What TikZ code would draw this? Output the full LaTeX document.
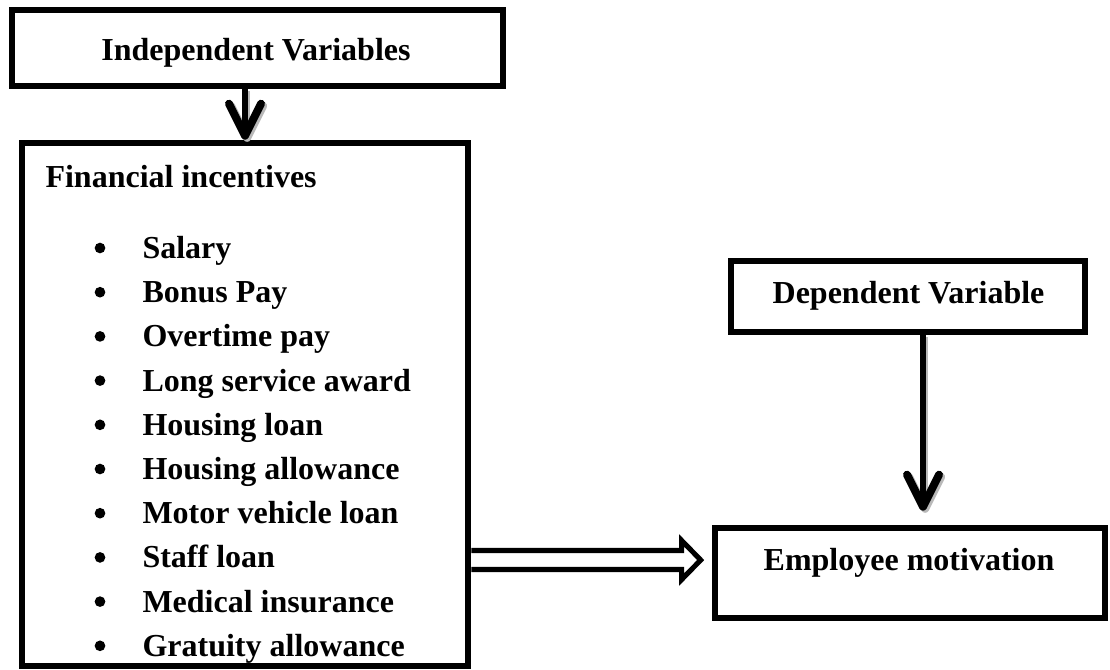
\documentclass[tikz,border=0pt]{standalone}
\usepackage{fontspec}
\setmainfont{Liberation Serif}
\usetikzlibrary{calc, arrows.meta}
\tikzstyle{box}=[draw, line width=2.5pt, inner sep=0pt]
\tikzstyle{txt}=[inner sep=0pt, font=\fontsize{12}{14}\selectfont\bfseries]
\tikzstyle{dot}=[circle, fill, inner sep=0pt, minimum size=4pt]
\tikzstyle{vline}=[line width=2.5pt, -{Straight Barb[length=12pt, width=12pt, line width=3pt, round]}]
\tikzstyle{ghost}=[gray!55, transform canvas={xshift=0.8pt, yshift=-0.8pt}]
\tikzstyle{hollow}=[line width=1.9pt, line join=miter, fill=white]

\begin{document}
\begin{tikzpicture}[x=0.375pt, y=-0.375pt]
    \useasboundingbox (0,0) rectangle (1110,669);
    % boxes
    \node [box, minimum width=184.1pt, minimum height=28.5pt] (indep) at (257.5,48) {};
    \node [txt, anchor=base] (indeptxt) at ($(indep.center)+(-1.5,12.5)$) {Independent Variables};
    \node [box, minimum width=167.25pt, minimum height=196.1pt] (fin) at (245,404.5) {};
    \node [txt, anchor=base west] (fintxt) at (45,187.5) {Financial incentives};
    \foreach \incentive [count=\i from 0] in {Salary, Bonus Pay, Overtime pay, Long service award,
        Housing loan, Housing allowance, Motor vehicle loan, Staff loan, Medical insurance, Gratuity allowance}
    {
        \node [dot] (dot\i) at (100,248+44.2*\i) {};
        \node [txt, anchor=base west] (item\i) at (142,258.5+44.2*\i) {\incentive};
    }
    \node [box, minimum width=132.75pt, minimum height=26.6pt] (dep) at (908,296.5) {};
    \node [txt, anchor=base] (deptxt) at ($(dep.center)+(0.5,7)$) {Dependent Variable};
    \node [box, minimum width=146.25pt, minimum height=33.75pt] (emp) at (910,573) {};
    \node [txt, anchor=base] (emptxt) at ($(emp.center)+(-1,-2.5)$) {Employee motivation};

    % arrows
    \coordinate (dtop) at ($(dep.south)+(15,0)$);
    \coordinate (dend) at ($(dtop |- emp.north)+(0,-14)$);
    \draw [vline, ghost] (indep.south -| fin.north) -- (fin.north);
    \draw [vline] (indep.south -| fin.north) -- (fin.north);
    \draw [vline, ghost] (dtop) -- (dend);
    \draw [vline] (dtop) -- (dend);

    \coordinate (hs) at ($(fin.east |- emp.center)+(0,-13)$);
    \coordinate (he) at ($(emp.west |- hs)+(-11,0)$);
    \draw [hollow] ($(hs)+(0,-9.5)$) -- ($(he)+(-19,-9.5)$) -- ($(he)+(-19,-19.5)$) -- (he)
        -- ($(he)+(-19,19.5)$) -- ($(he)+(-19,9.5)$) -- ($(hs)+(0,9.5)$);
\end{tikzpicture}
\end{document}
